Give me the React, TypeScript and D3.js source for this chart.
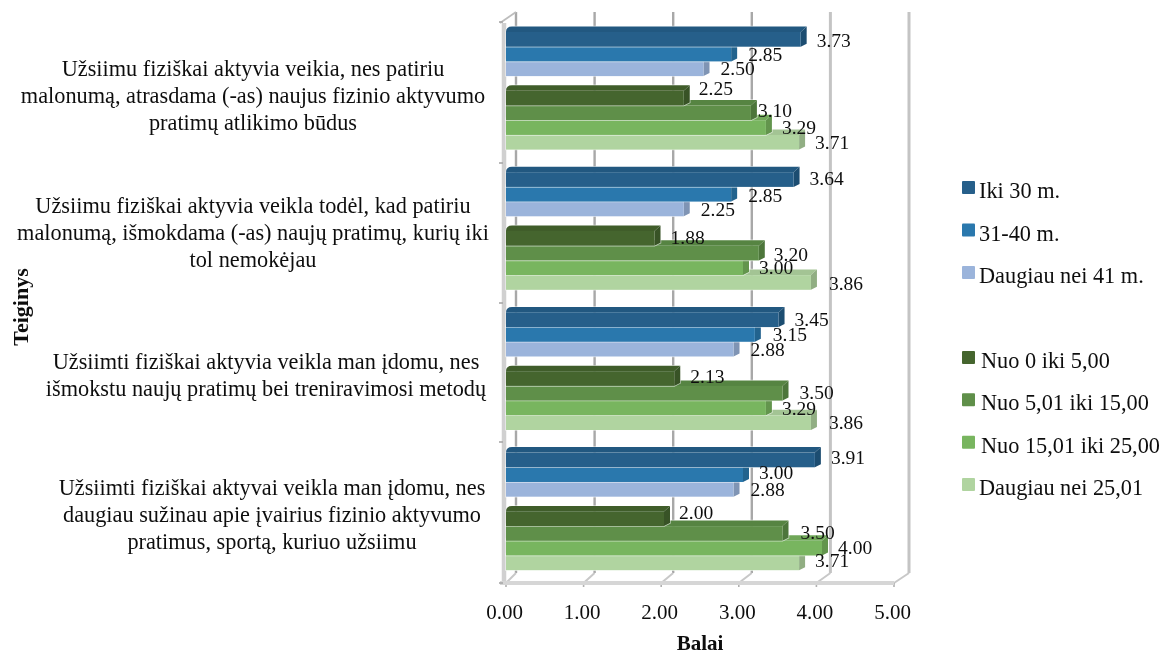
import React from "react";
import * as d3 from "d3";

const WIDTH = 1165;
const HEIGHT = 653;

const groups = ["g1", "g2", "g3", "g4"];
const rowKeys = ["Iki 30 m.", "31-40 m.", "Daugiau nei 41 m.", "", "Nuo 0 iki 5,00", "Nuo 5,01 iki 15,00", "Nuo 15,01 iki 25,00", "Daugiau nei 25,01"];

const iki30 = [3.73, 3.64, 3.45, 3.91];
const m31to40 = [2.85, 2.85, 3.15, 3.0];
const over41 = [2.5, 2.25, 2.88, 2.88];
const nuo0 = [2.25, 1.88, 2.13, 2.0];
const nuo5 = [3.1, 3.2, 3.5, 3.5];
const nuo15 = [3.29, 3.0, 3.29, 4.0];
const over25 = [3.71, 3.86, 3.86, 3.71];

const seriesValues: Record<string, number[]> = {
  "Iki 30 m.": iki30,
  "31-40 m.": m31to40,
  "Daugiau nei 41 m.": over41,
  "Nuo 0 iki 5,00": nuo0,
  "Nuo 5,01 iki 15,00": nuo5,
  "Nuo 15,01 iki 25,00": nuo15,
  "Daugiau nei 25,01": over25,
};

const colors: Record<string, string> = {
  "Iki 30 m.": "#255f8a",
  "31-40 m.": "#2b78ad",
  "Daugiau nei 41 m.": "#9bb4db",
  "Nuo 0 iki 5,00": "#44652f",
  "Nuo 5,01 iki 15,00": "#5e8f48",
  "Nuo 15,01 iki 25,00": "#78b55f",
  "Daugiau nei 25,01": "#b0d4a0",
};

const xTicks = [0, 1, 2, 3, 4, 5];

const categoryLines = [
  ["Užsiimu fiziškai aktyvia veikia, nes patiriu", "malonumą, atrasdama (-as) naujus fizinio aktyvumo", "pratimų atlikimo būdus"],
  ["Užsiimu fiziškai aktyvia veikla todėl, kad patiriu", "malonumą, išmokdama (-as) naujų pratimų, kurių iki", "tol nemokėjau"],
  ["Užsiimti fiziškai aktyvia veikla man įdomu, nes", "išmokstu naujų pratimų bei treniravimosi metodų"],
  ["Užsiimti fiziškai aktyvai veikla man įdomu, nes", "daugiau sužinau apie įvairius fizinio aktyvumo", "pratimus, sportą, kuriuo užsiimu"],
];
const categoryCx = [253, 253, 266, 272];
const categoryLineY = [
  [68, 95, 122],
  [205, 232, 259],
  [361, 388],
  [487, 514, 541],
];

// manual label nudges [dx, dy], one per series per group (labels overlap in the source)
const labelNudges: Record<string, [number, number][]> = {
  "Iki 30 m.": [[0, 1], [0, -1], [0, 0], [0, -2]],
  "31-40 m.": [[1, 0], [1, 1], [2, 0], [0, -2]],
  "Daugiau nei 41 m.": [[1, 0], [1, 1], [1, 0], [1, 0]],
  "Nuo 0 iki 5,00": [[-1, -10], [0, -1], [0, -2], [-1, -6]],
  "Nuo 5,01 iki 15,00": [[-9, -2], [-1, 1], [1, -1], [2, -1]],
  "Nuo 15,01 iki 25,00": [[0, 0], [0, 0], [0, 1], [0, -1]],
  "Daugiau nei 25,01": [[0, 0], [2, 1], [2, 0], [0, -2]],
};

const legendTop = ["Iki 30 m.", "31-40 m.", "Daugiau nei 41 m."];
const legendBottom = ["Nuo 0 iki 5,00", "Nuo 5,01 iki 15,00", "Nuo 15,01 iki 25,00", "Daugiau nei 25,01"];

const FONT = "'Liberation Serif', 'Times New Roman', serif";

export default function App() {
  const left = 506;
  const floorY = 583;
  const backFloorY = 573;
  const topY = 12;
  const depthX = 6;
  const depthY = 5.5;

  const barLen = d3.scaleLinear().domain([0, 5]).range([0, 395]);
  const front = d3.scaleLinear().domain([0, 5]).range([506, 894]);
  const back = d3.scaleLinear().domain([0, 5]).range([516, 909]);

  const groupBand = d3.scaleBand<string>().domain(groups).range([32, 570.2]).paddingInner(0.161).paddingOuter(0);
  const rowBand = d3.scaleBand<string>().domain(rowKeys).range([0, groupBand.bandwidth()]);
  const rowH = rowBand.bandwidth();

  const legendY = d3.scaleLinear().domain([0, 2]).range([187.5, 272.5]);
  const legendY2 = d3.scaleLinear().domain([0, 3]).range([357.5, 484.5]);

  const yTickPos = [22, 163, 303, 442, 583];

  const bars: React.ReactNode[] = [];
  const labels: React.ReactNode[] = [];
  groups.forEach((g, gi) => {
    const keys = rowKeys.filter((k) => k !== "").slice().reverse();
    keys.forEach((k) => {
      const v = seriesValues[k][gi];
      const y0 = groupBand(g)! + rowBand(k)!;
      const x1 = left + barLen(v);
      const base = d3.color(colors[k])!;
      const top = d3.color(colors[k])!.darker(0.22).toString();
      const side = d3.color(colors[k])!.darker(0.55).toString();
      bars.push(
        <g key={`${g}-${k}`}>
          <path
            d={`M${left},${y0}Q${left},${y0 - depthY} ${left + depthX},${y0 - depthY}L${x1 + depthX},${y0 - depthY}L${x1 + depthX},${y0 + rowH - 3}L${x1},${y0 + rowH}L${left},${y0 + rowH}Z`}
            fill="#fff"
            fillOpacity={0.6}
            stroke="#fff"
            strokeOpacity={0.6}
            strokeWidth={1.5}
          />
          <path
            d={`M${left},${y0}Q${left},${y0 - depthY} ${left + depthX},${y0 - depthY}L${x1 + depthX},${y0 - depthY}L${x1},${y0}Z`}
            fill={top}
          />
          <path
            d={`M${x1},${y0}L${x1 + depthX},${y0 - depthY}L${x1 + depthX},${y0 + rowH - 3}L${x1},${y0 + rowH}Z`}
            fill={side}
          />
          <rect x={left} y={y0} width={barLen(v)} height={rowH} fill={base.toString()} />
        </g>
      );
      const [dx, dy] = labelNudges[k][gi];
      labels.push(
        <text
          key={`l-${g}-${k}`}
          x={x1 + depthX + 10 + dx}
          y={y0 + rowH / 2 + dy}
          dominantBaseline="central"
          fontSize={19.5}
          fill="#111"
        >
          {v.toFixed(2)}
        </text>
      );
    });
  });

  return (
    <svg
      width={WIDTH}
      height={HEIGHT}
      viewBox={`0 0 ${WIDTH} ${HEIGHT}`}
      style={{ position: "absolute", left: 0, top: 0, background: "#fff" }}
      fontFamily={FONT}
    >
      <defs>
        <filter id="soft" x="-2%" y="-2%" width="104%" height="104%">
          <feGaussianBlur stdDeviation="0.45" />
        </filter>
      </defs>
      <g filter="url(#soft)">
        {/* back wall gridlines */}
        {xTicks.map((t) => (
          <g key={t}>
            <line
              x1={back(t)}
              x2={back(t)}
              y1={topY}
              y2={backFloorY}
              stroke={t >= 4 ? "#c4c4c4" : "#a8a8a8"}
              strokeWidth={t >= 4 ? 3 : 2.4}
            />
            <line x1={front(t)} y1={floorY} x2={back(t)} y2={backFloorY} stroke="#c8c8c8" strokeWidth={2} />
            <line x1={front(t)} y1={floorY} x2={front(t)} y2={floorY + 4} stroke="#b0b0b0" strokeWidth={1.6} />
          </g>
        ))}
        {/* left wall and floor */}
        <line x1={504} x2={504} y1={23} y2={floorY} stroke="#d0d0d0" strokeWidth={4.5} />
        <line x1={500} y1={23} x2={back(0)} y2={topY} stroke="#bdbdbd" strokeWidth={1.8} />
        <line x1={500} x2={front(5)} y1={floorY} y2={floorY} stroke="#d6d6d6" strokeWidth={4} />
        {yTickPos.map((y) => (
          <line key={y} x1={499} x2={503} y1={y} y2={y} stroke="#a8a8a8" strokeWidth={1.6} />
        ))}
        {bars}
        {labels}

        {/* x ticks */}
        {xTicks.map((t) => (
          <text key={t} x={front(t) - 1.5} y={612} textAnchor="middle" dominantBaseline="central" fontSize={21} fill="#111">
            {t.toFixed(2)}
          </text>
        ))}
        <text x={700} y={643} textAnchor="middle" dominantBaseline="central" fontSize={21} fontWeight="bold" fill="#111">
          Balai
        </text>
        <text
          transform="translate(20,307) rotate(-90)"
          textAnchor="middle"
          dominantBaseline="central"
          fontSize={22}
          fontWeight="bold"
          fill="#111"
        >
          Teiginys
        </text>

        {/* category labels */}
        {categoryLines.map((lines, i) =>
          lines.map((line, j) => (
            <text
              key={`${i}-${j}`}
              x={categoryCx[i]}
              y={categoryLineY[i][j]}
              textAnchor="middle"
              dominantBaseline="central"
              fontSize={22.3}
              fill="#111"
            >
              {line}
            </text>
          ))
        )}

        {/* legend */}
        {legendTop.map((k, i) => (
          <g key={k}>
            <rect x={962} y={legendY(i) - 6.5} width={13} height={13} rx={1} fill={colors[k]} />
            <text x={979} y={legendY(i) + 3} dominantBaseline="central" fontSize={22.3} fill="#111">
              {k}
            </text>
          </g>
        ))}
        {legendBottom.map((k, i) => (
          <g key={k}>
            <rect x={962} y={legendY2(i) - 6.5} width={13} height={13} rx={1} fill={colors[k]} />
            <text x={i === 3 ? 979 : 981} y={legendY2(i) + 3} dominantBaseline="central" fontSize={22.3} fill="#111">
              {k}
            </text>
          </g>
        ))}
      </g>
    </svg>
  );
}
